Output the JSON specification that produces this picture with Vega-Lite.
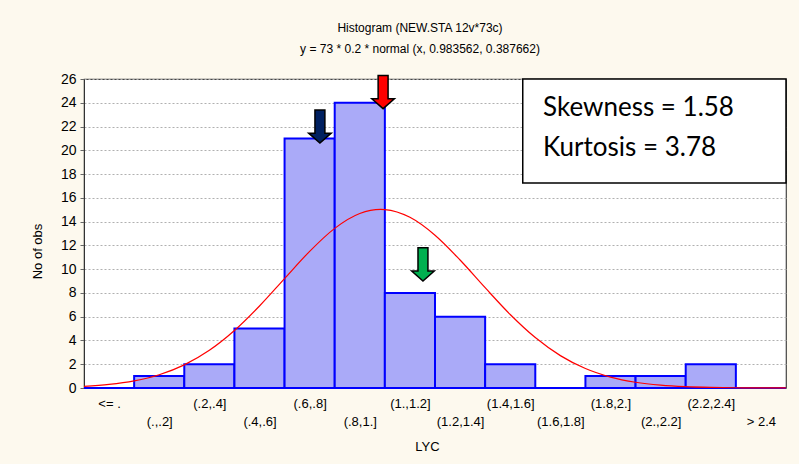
{
  "$schema": "https://vega.github.io/schema/vega-lite/v6.json",
  "width": 702,
  "height": 309,
  "autosize": {"type": "none"},
  "padding": {"left": 84, "top": 79, "right": 13, "bottom": 76},
  "background": "#fdf9ee",
  "title": {
    "text": ["Histogram (NEW.STA 12v*73c)", "y = 73 * 0.2 * normal (x, 0.983562, 0.387662)"],
    "font": "Liberation Sans Narrow, Liberation Sans, Arial",
    "fontSize": 12,
    "fontWeight": "normal",
    "color": "#000000",
    "lineHeight": 21,
    "anchor": "middle",
    "frame": "group",
    "dx": -15,
    "offset": 16
  },
  "config": {
    "view": {"fill": "white", "stroke": "#444444", "strokeWidth": 1.2},
    "axis": {
      "labelFont": "Liberation Sans",
      "titleFont": "Liberation Sans",
      "labelColor": "#000000",
      "titleColor": "#000000",
      "titleFontWeight": "normal",
      "domainColor": "#333333"
    },
    "axisY": {"tickCount": 30, "labelOverlap": false},
    "axisX": {"tickCount": 30}
  },
  "datasets": {
    "bins": [
      {"bin": "<= .", "start": -0.2, "end": 0.0, "count": 0},
      {"bin": "(.,.2]", "start": 0.0, "end": 0.2, "count": 1},
      {"bin": "(.2,.4]", "start": 0.2, "end": 0.4, "count": 2},
      {"bin": "(.4,.6]", "start": 0.4, "end": 0.6, "count": 5},
      {"bin": "(.6,.8]", "start": 0.6, "end": 0.8, "count": 21},
      {"bin": "(.8,1.]", "start": 0.8, "end": 1.0, "count": 24},
      {"bin": "(1.,1.2]", "start": 1.0, "end": 1.2, "count": 8},
      {"bin": "(1.2,1.4]", "start": 1.2, "end": 1.4, "count": 6},
      {"bin": "(1.4,1.6]", "start": 1.4, "end": 1.6, "count": 2},
      {"bin": "(1.6,1.8]", "start": 1.6, "end": 1.8, "count": 0},
      {"bin": "(1.8,2.]", "start": 1.8, "end": 2.0, "count": 1},
      {"bin": "(2.,2.2]", "start": 2.0, "end": 2.2, "count": 1},
      {"bin": "(2.2,2.4]", "start": 2.2, "end": 2.4, "count": 2},
      {"bin": "> 2.4", "start": 2.4, "end": 2.6, "count": 0}
    ],
    "curve": [
      {"x": -0.2, "y": 0.142},
      {"x": -0.1, "y": 0.302},
      {"x": 0.0, "y": 0.601},
      {"x": 0.1, "y": 1.119},
      {"x": 0.2, "y": 1.948},
      {"x": 0.3, "y": 3.174},
      {"x": 0.4, "y": 4.839},
      {"x": 0.5, "y": 6.902},
      {"x": 0.6, "y": 9.209},
      {"x": 0.7, "y": 11.498},
      {"x": 0.8, "y": 13.431},
      {"x": 0.9, "y": 14.68},
      {"x": 0.9836, "y": 15.025},
      {"x": 1.0, "y": 15.011},
      {"x": 1.1, "y": 14.362},
      {"x": 1.2, "y": 12.857},
      {"x": 1.3, "y": 10.768},
      {"x": 1.4, "y": 8.438},
      {"x": 1.5, "y": 6.186},
      {"x": 1.6, "y": 4.243},
      {"x": 1.7, "y": 2.724},
      {"x": 1.8, "y": 1.635},
      {"x": 1.9, "y": 0.918},
      {"x": 2.0, "y": 0.483},
      {"x": 2.1, "y": 0.238},
      {"x": 2.2, "y": 0.109},
      {"x": 2.3, "y": 0.047},
      {"x": 2.4, "y": 0.019},
      {"x": 2.5, "y": 0.007},
      {"x": 2.6, "y": 0.003}
    ],
    "arrows": [
      {"marker": "dark blue", "x": 0.741, "y": 22.0},
      {"marker": "red", "x": 0.993, "y": 24.9},
      {"marker": "green", "x": 1.152, "y": 10.4}
    ]
  },
  "layer": [
    {
      "data": {"name": "bins"},
      "mark": {"type": "rect", "fill": "#aaaaf8", "stroke": "#0000ff", "strokeWidth": 2},
      "encoding": {
        "x": {
          "field": "start",
          "type": "quantitative",
          "title": "LYC",
          "scale": {"domain": [-0.2, 2.6], "nice": false, "zero": false},
          "axis": {
            "values": [-0.1, 0.1, 0.3, 0.5, 0.7, 0.9, 1.1, 1.3, 1.5, 1.7, 1.9, 2.1, 2.3, 2.5],
            "tickCount": 30,
            "labelExpr": "['<= .','(.,.2]','(.2,.4]','(.4,.6]','(.6,.8]','(.8,1.]','(1.,1.2]','(1.2,1.4]','(1.4,1.6]','(1.6,1.8]','(1.8,2.]','(2.,2.2]','(2.2,2.4]','> 2.4'][round((datum.value+0.1)/0.2)]",
            "labelPadding": {"condition": {"test": "round((datum.value+0.1)/0.2) % 2 == 1", "value": 27}, "value": 9},
            "labelFontSize": 13,
            "labelOverlap": false,
            "labelFlush": false,
            "labelBound": false,
            "ticks": false,
            "grid": false,
            "domain": false,
            "titleFontSize": 13,
            "titleX": 343,
            "titlePadding": 12
          }
        },
        "x2": {"field": "end"},
        "y": {
          "field": "count",
          "type": "quantitative",
          "title": "No of obs",
          "scale": {"domain": [0, 26], "nice": false},
          "axis": {
            "values": [0, 2, 4, 6, 8, 10, 12, 14, 16, 18, 20, 22, 24, 26],
            "tickCount": 30,
            "labelOverlap": false,
            "labelFontSize": 14,
            "labelPadding": 4,
            "tickSize": 4,
            "tickColor": "#666666",
            "grid": true,
            "gridColor": "#b0b0b0",
            "gridDash": [2, 2],
            "titleFontSize": 13,
            "titleY": 172,
            "titlePadding": 16
          }
        },
        "y2": {"datum": 0}
      }
    },
    {
      "data": {"name": "curve"},
      "mark": {"type": "line", "color": "#ff0000", "strokeWidth": 1.2, "interpolate": "monotone"},
      "encoding": {
        "x": {"field": "x", "type": "quantitative", "title": "LYC"},
        "y": {"field": "y", "type": "quantitative", "title": "No of obs"}
      }
    },
    {
      "data": {"values": [{}]},
      "mark": {"type": "rect", "fill": "white", "stroke": "#000000", "strokeWidth": 1.5},
      "encoding": {
        "x": {"datum": 1.55},
        "x2": {"datum": 2.6},
        "y": {"datum": 17.25},
        "y2": {"datum": 26}
      }
    },
    {
      "data": {"values": [{}]},
      "mark": {"type": "text", "text": "Skewness = 1.58", "font": "Lato", "fontSize": 26, "align": "left", "baseline": "middle", "color": "#000000"},
      "encoding": {
        "x": {"datum": 1.631},
        "y": {"datum": 23.56}
      }
    },
    {
      "data": {"values": [{}]},
      "mark": {"type": "text", "text": "Kurtosis = 3.78", "font": "Lato", "fontSize": 26, "align": "left", "baseline": "middle", "color": "#000000"},
      "encoding": {
        "x": {"datum": 1.631},
        "y": {"datum": 20.19}
      }
    },
    {
      "data": {"name": "arrows"},
      "mark": {
        "type": "point",
        "shape": "M -0.3 -1 L 0.3 -1 L 0.3 0.4 L 0.68 0.4 L 0 1 L -0.68 0.4 L -0.3 0.4 Z",
        "filled": true,
        "opacity": 1,
        "size": 1100,
        "stroke": "#000000",
        "strokeWidth": 1.5
      },
      "encoding": {
        "x": {"field": "x", "type": "quantitative", "title": "LYC"},
        "y": {"field": "y", "type": "quantitative", "title": "No of obs"},
        "color": {
          "field": "marker",
          "type": "nominal",
          "scale": {"domain": ["dark blue", "red", "green"], "range": ["#002060", "#ff0000", "#00b050"]},
          "legend": null
        }
      }
    }
  ]
}
